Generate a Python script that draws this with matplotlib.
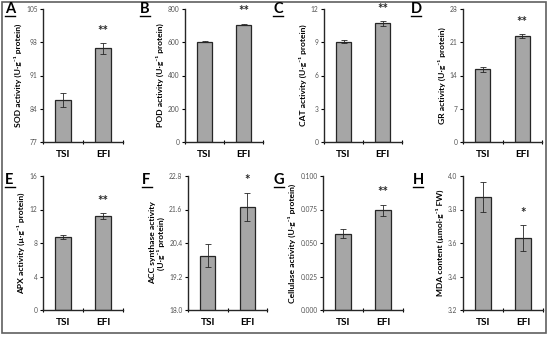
import matplotlib
matplotlib.use("Agg")
import numpy as np
import matplotlib.pyplot as plt
from matplotlib.lines import Line2D
from matplotlib.patches import Rectangle

plt.rcParams['font.family'] = ['Lato', 'DejaVu Sans']

groups = ['TSI', 'EFI']
letters = ['A', 'B', 'C', 'D', 'E', 'F', 'G', 'H']
ylabels = ['SOD activity (U·g⁻¹ protein)',
           'POD activity (U·g⁻¹ protein)',
           'CAT activity (U·g⁻¹ protein)',
           'GR activity (U·g⁻¹ protein)',
           'APX activity (µ·g⁻¹ protein)',
           'ACC synthase activity\n(U·g⁻¹ protein)',
           'Cellulase activity (U·g⁻¹ protein)',
           'MDA content (µmol·g⁻¹ FW)']
means = [[85.8, 96.7], [604, 706], [9.05, 10.7], [15.3, 22.3],
         [8.75, 11.2], [19.95, 21.7], [0.057, 0.0745], [3.875, 3.63]]
errs = [[1.5, 1.1], [5, 5], [0.15, 0.2], [0.5, 0.35],
        [0.25, 0.35], [0.4, 0.5], [0.0035, 0.004], [0.09, 0.075]]
stars = ['**', '**', '**', '**', '**', '*', '**', '*']
yticks = [[77, 84, 91, 98, 105], [0, 200, 400, 600, 800], [0, 3, 6, 9, 12],
          [0, 7, 14, 21, 28], [0, 4, 8, 12, 16], [18.0, 19.2, 20.4, 21.6, 22.8],
          [0.0, 0.025, 0.05, 0.075, 0.1], [3.2, 3.4, 3.6, 3.8, 4.0]]
tickfmt = ['{:.0f}', '{:.0f}', '{:.0f}', '{:.0f}', '{:.0f}', '{:.1f}', '{:.3f}', '{:.1f}']

W, H = 550, 337
# axes boxes in pixels: left, right, top, bottom
boxes = [(43, 123, 9, 142), (185, 263, 9, 142), (324, 402, 9, 142), (463, 542, 9, 142),
         (43, 123, 176, 310), (188, 267, 176, 310), (323, 403, 176, 310), (463, 543, 176, 310)]
letter_pos = [(5, 2), (140, 2), (273, 2), (411, 2), (5, 173), (142, 173), (274, 173), (413, 173)]

fig = plt.figure(figsize=(W / 100, H / 100), dpi=100)
fig.patches.append(Rectangle((2 / W, 4 / H), 544 / W, 331 / H, transform=fig.transFigure,
                             fill=False, edgecolor='#606060', linewidth=1.2))

for i in range(8):
    l, r, t, b = boxes[i]
    ax = fig.add_axes([l / W, 1 - b / H, (r - l) / W, (b - t) / H])
    x = np.arange(2)
    ax.bar(x, means[i], width=0.38, color='#a6a6a6', edgecolor='#262626', linewidth=0.9,
           zorder=2)
    ax.errorbar(x, means[i], yerr=errs[i], fmt='none', ecolor='#262626', elinewidth=0.6,
                capsize=2, capthick=0.6, zorder=3)
    lo, hi = yticks[i][0], yticks[i][-1]
    ax.set_ylim(lo, hi)
    ax.set_xlim(-0.5, 1.5)
    ax.set_yticks(yticks[i])
    ax.set_yticklabels([tickfmt[i].format(v) for v in yticks[i]], fontsize=4.8, color='#555555')
    ax.set_xticks(x)
    ax.set_xticklabels(groups, fontsize=7.2, fontweight='bold')
    ax.set_xticks([-0.5, 0.5, 1.5], minor=True)
    ax.tick_params(axis='x', which='major', length=0, pad=6)
    ax.tick_params(axis='x', which='minor', length=3, direction='inout', width=0.8)
    ax.tick_params(axis='y', length=2.5, width=0.8, direction='out', pad=1.5)
    for s in ['top', 'right']:
        ax.spines[s].set_visible(False)
    for s in ['left', 'bottom']:
        ax.spines[s].set_linewidth(1.0)
        ax.spines[s].set_color('#262626')
    ax.set_ylabel(ylabels[i], fontsize=6.1, fontweight='bold', labelpad=3, linespacing=1.1)
    # significance marks
    ax.text(1, means[i][1] + errs[i][1] + (hi - lo) * 0.05, stars[i], ha='center', va='bottom',
            fontsize=9.5, fontweight='bold', color='#262626')
    # panel letter with underline
    lx, ly = letter_pos[i]
    fig.text(lx / W, 1 - ly / H, letters[i], fontsize=10.5, fontweight='bold', ha='left', va='top')
    fig.add_artist(Line2D([lx / W, (lx + 10) / W], [1 - (ly + 14) / H] * 2,
                          transform=fig.transFigure, color='black', linewidth=1.0))

fig.savefig('out.png', dpi=100)
